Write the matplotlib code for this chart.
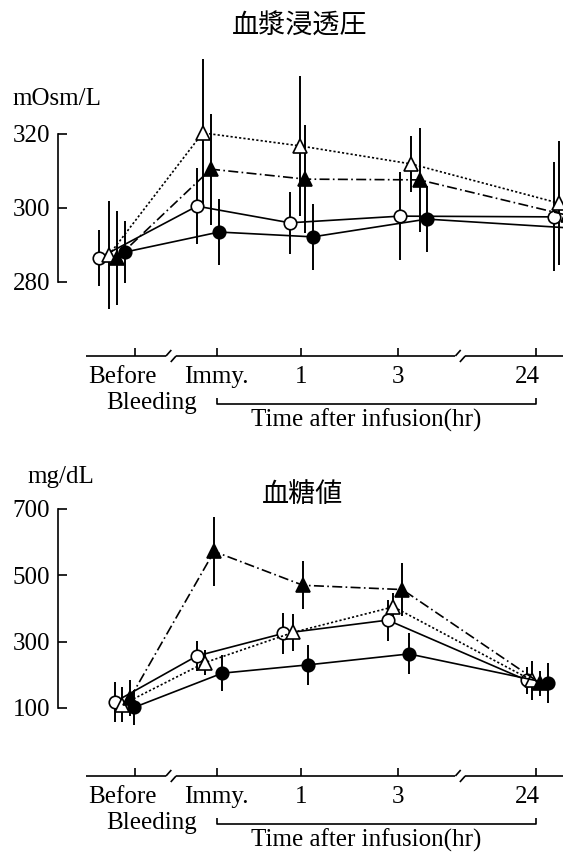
import matplotlib.pyplot as plt

plt.rcParams["font.family"] = ["Liberation Serif", "Noto Sans CJK JP"]

# ---------------------------------------------------------------------------
# Data
# ---------------------------------------------------------------------------
tick_labels = ["Before", "Immy.", "1", "3", "24"]
tick_x = [0.0, 1.0, 2.04, 3.23, 4.92]

# plasma osmolality, mOsm/L
osm_open_circle_x = [-0.44, 0.76, 1.90, 3.25, 5.14]
osm_open_circle = [286.5, 300.5, 296.0, 297.8, 297.6]
osm_open_circle_err = [7.5, 10.3, 8.4, 11.8, 14.7]

osm_open_tri_x = [-0.32, 0.83, 2.02, 3.39, 5.20]
osm_open_tri = [287.3, 320.3, 316.8, 311.9, 301.3]
osm_open_tri_err = [14.5, 20.0, 19.0, 7.5, 16.7]

osm_filled_tri_x = [-0.22, 0.93, 2.09, 3.49, 5.31]
osm_filled_tri = [286.5, 310.5, 307.8, 307.6, 298.0]
osm_filled_tri_err = [12.6, 15.0, 14.6, 14.0, 14.0]

osm_filled_circle_x = [-0.12, 1.03, 2.18, 3.58, 5.41]
osm_filled_circle = [288.1, 293.5, 292.2, 297.0, 294.5]
osm_filled_circle_err = [8.5, 9.0, 9.0, 9.0, 9.0]

# blood glucose, mg/dL
glu_open_circle_x = [-0.25, 0.76, 1.82, 3.10, 4.81]
glu_open_circle = [118, 257, 325, 365, 183]
glu_open_circle_err = [60, 45, 62, 62, 40]

glu_open_tri_x = [-0.16, 0.86, 1.94, 3.17, 4.87]
glu_open_tri = [110, 237, 328, 405, 183]
glu_open_tri_err = [53, 37, 55, 43, 60]

glu_filled_tri_x = [-0.06, 0.97, 2.06, 3.28, 4.97]
glu_filled_tri = [130, 572, 470, 457, 175]
glu_filled_tri_err = [55, 105, 72, 80, 38]

glu_filled_circle_x = [-0.01, 1.07, 2.12, 3.36, 5.07]
glu_filled_circle = [102, 205, 230, 263, 175]
glu_filled_circle_err = [52, 55, 60, 62, 60]

# ---------------------------------------------------------------------------
W, H = 563, 855
XLIM = (-0.945, 5.25)
FS = 18
LW = 1.2

fig = plt.figure(figsize=(W / 100, H / 100), dpi=100)


def px_rect(x0, y0, x1, y1):
    """Pixel box (top-left origin) -> figure fraction rect."""
    return [x0 / W, 1 - y1 / H, (x1 - x0) / W, (y1 - y0) / H]


STYLES = {
    "open_circle": dict(marker="o", ms=9, mfc="white", ls="-"),
    "open_tri": dict(marker="^", ms=10.5, mfc="white", ls=(0, (1.3, 1.3))),
    "filled_tri": dict(marker="^", ms=10.5, mfc="black", ls=(0, (6, 2, 1, 2))),
    "filled_circle": dict(marker="o", ms=9, mfc="black", ls="-"),
}


def draw_series(ax, x, y, err, kind):
    st = STYLES[kind]
    ax.errorbar(
        x, y, yerr=err, color="black", lw=LW, elinewidth=1.4, capsize=0,
        marker=st["marker"], ms=st["ms"], mfc=st["mfc"], mec="black",
        mew=1.2, ls=st["ls"],
    )


def style_data_axes(ax, ylim, yticks):
    ax.set_xlim(XLIM)
    ax.set_ylim(ylim)
    for side in ["top", "right", "bottom"]:
        ax.spines[side].set_visible(False)
    ax.spines["left"].set_bounds(yticks[0], yticks[-1])
    ax.spines["left"].set_linewidth(LW)
    ax.set_xticks([])
    ax.set_yticks(yticks)
    ax.tick_params(axis="y", direction="in", length=6.5, width=LW,
                   labelsize=FS, pad=5.5)
    ax.patch.set_alpha(0)


def draw_time_axis(line_y):
    ax = fig.add_axes(px_rect(58, line_y - 20, W, line_y + 80))
    ax.set_xlim(XLIM)
    ax.set_ylim(-80, 20)
    ax.axis("off")
    kw = dict(color="black", lw=LW, clip_on=False, solid_capstyle="butt")
    segments = [(-0.60, 0.38), (0.503, 3.93), (4.05, XLIM[1])]
    for a, b in segments:
        ax.plot([a, b], [0, 0], **kw)
    dx = 0.065
    for (_, a), (b, _) in zip(segments[:-1], segments[1:]):
        ax.plot([a, a + dx], [0, 6], **kw)
        ax.plot([b - dx, b], [-6, 0], **kw)
    ax.vlines(tick_x, 0, 8, color="black", lw=LW)
    offsets = {"Before": -0.16, "24": -0.11}
    for x, lab in zip(tick_x, tick_labels):
        ax.text(x + offsets.get(lab, 0), -27, lab, ha="center",
                va="baseline", fontsize=FS)
    ax.text(0.20, -53, "Bleeding", ha="center", va="baseline", fontsize=FS)
    ax.plot([tick_x[1], tick_x[1], tick_x[-1], tick_x[-1]],
            [-42, -48, -48, -42], **kw)
    ax.text(2.83, -71, "Time after infusion(hr)", ha="center",
            va="baseline", fontsize=FS)


# --- top panel: plasma osmolality -----------------------------------------
ax1 = fig.add_axes(px_rect(58, 41.5, W, 319))
style_data_axes(ax1, (270, 345), [280, 300, 320])
draw_series(ax1, osm_open_circle_x, osm_open_circle, osm_open_circle_err, "open_circle")
draw_series(ax1, osm_open_tri_x, osm_open_tri, osm_open_tri_err, "open_tri")
draw_series(ax1, osm_filled_tri_x, osm_filled_tri, osm_filled_tri_err, "filled_tri")
draw_series(ax1, osm_filled_circle_x, osm_filled_circle, osm_filled_circle_err, "filled_circle")
draw_time_axis(356)

fig.text(300 / W, 1 - 26 / H, "血漿浸透圧", ha="center", va="center",
         fontsize=19.5, family=["Noto Sans CJK JP"])
fig.text(12 / W, 1 - 105 / H, "mOsm/L", ha="left", va="baseline", fontsize=FS)

# --- bottom panel: blood glucose ------------------------------------------
ax2 = fig.add_axes(px_rect(58, 492.4, W, 727.9))
style_data_axes(ax2, (40, 750), [100, 300, 500, 700])
draw_series(ax2, glu_open_circle_x, glu_open_circle, glu_open_circle_err, "open_circle")
draw_series(ax2, glu_open_tri_x, glu_open_tri, glu_open_tri_err, "open_tri")
draw_series(ax2, glu_filled_tri_x, glu_filled_tri, glu_filled_tri_err, "filled_tri")
draw_series(ax2, glu_filled_circle_x, glu_filled_circle, glu_filled_circle_err, "filled_circle")
draw_time_axis(776)

fig.text(303 / W, 1 - 494 / H, "血糖値", ha="center", va="center",
         fontsize=19.5, family=["Noto Sans CJK JP"])
fig.text(27 / W, 1 - 483 / H, "mg/dL", ha="left", va="baseline", fontsize=FS)

fig.savefig("out.png", dpi=100)
